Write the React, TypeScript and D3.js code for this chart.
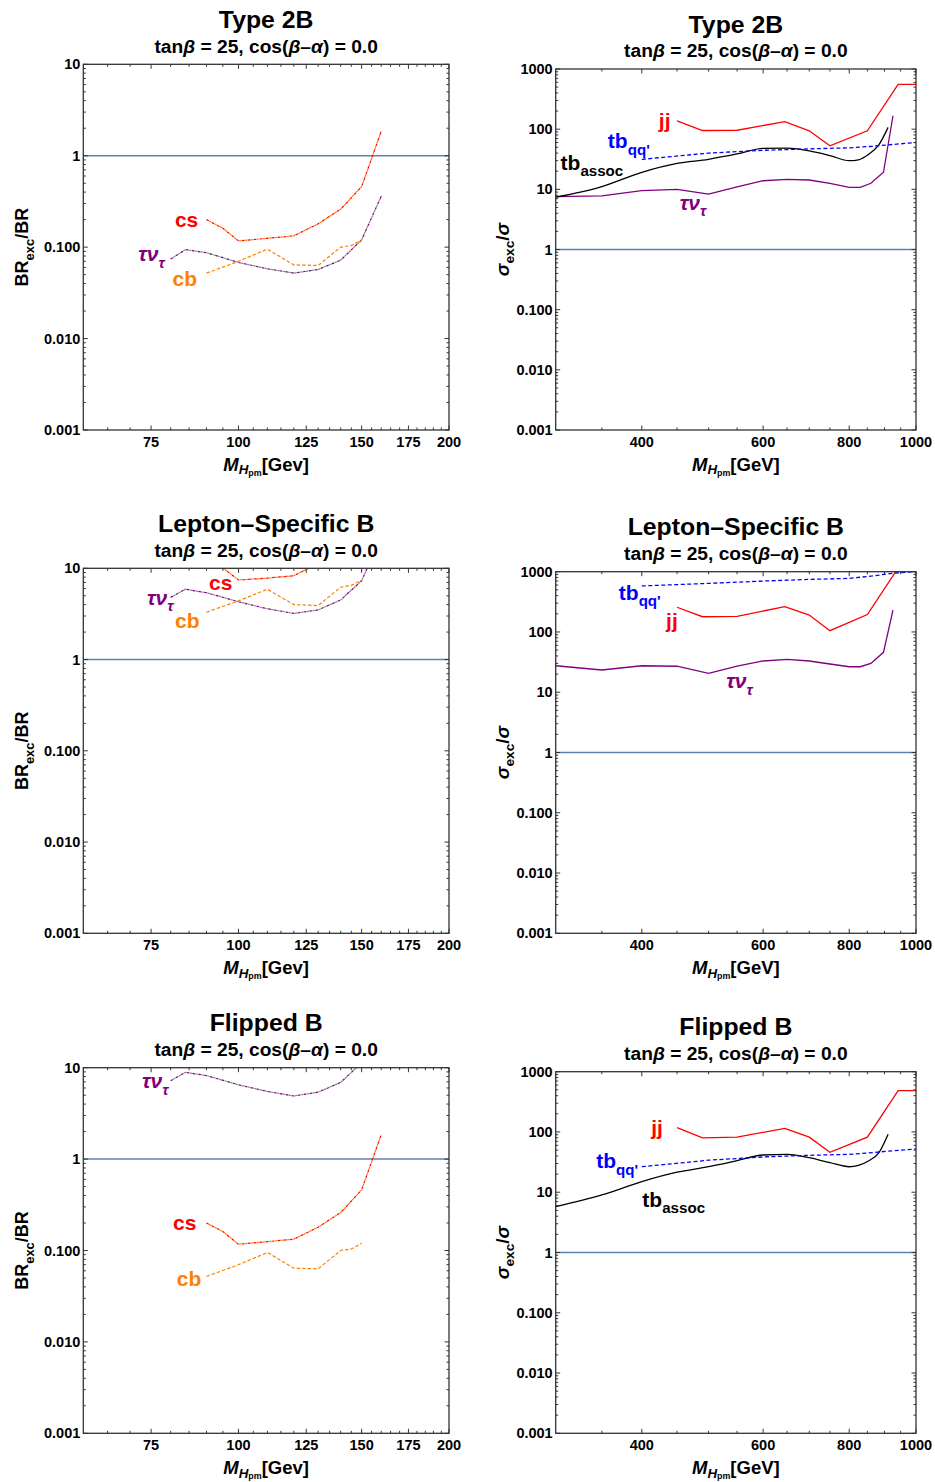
import React from "react";
import * as d3 from "d3";

// ================= DATA =================
// Left column: BR_exc / BR versus M_H± (GeV)
const csMass = [90, 95, 100, 110, 120, 130, 140, 150, 160];
const cs2B = [0.2, 0.161, 0.117, 0.125, 0.133, 0.18, 0.26, 0.46, 1.85];
const csLS = [12.5, 10.1, 7.45, 7.8, 8.3, 11.3, 16, 29, 115];
const csFL = [0.2, 0.161, 0.117, 0.125, 0.133, 0.18, 0.26, 0.46, 1.85];

const cbMass = [90, 100, 110, 120, 130, 140, 145, 150];
const cb2B = [0.052, 0.07, 0.095, 0.064, 0.063, 0.1, 0.104, 0.12];
const cbLS = [3.3, 4.4, 5.9, 4.0, 3.9, 6.2, 6.5, 7.45];
const cbFL = [0.052, 0.07, 0.095, 0.064, 0.063, 0.1, 0.104, 0.12];

const tauMassL = [80, 84, 90, 100, 110, 120, 130, 140, 150, 160];
const tau2BL = [0.074, 0.094, 0.087, 0.068, 0.058, 0.052, 0.057, 0.072, 0.12, 0.36];
const tauLSL = [4.8, 5.9, 5.4, 4.3, 3.6, 3.2, 3.5, 4.5, 7.3, 22];
const tauFLL = [7.2, 8.9, 8.2, 6.5, 5.5, 4.9, 5.4, 6.9, 11.3, 34];

// Right column: sigma_exc / sigma versus M_H± (GeV)
const jjMass = [450, 490, 550, 645, 700, 750, 850, 942, 1000];
const jj2B = [137, 95, 96, 133, 94, 53, 94, 556, 556];
const jjLS = [257, 179, 182, 263, 191, 105, 195, 1150, 1150];
const jjFL = [118, 80, 82, 115, 82, 46, 82, 484, 484];

const tbqqMass = [400, 500, 600, 700, 800, 865, 930, 1000];
const tbqq2B = [31.5, 40, 44.5, 47, 49, 52, 56, 60];
const tbqqLS = [580, 640, 700, 745, 775, 850, 950, 1000];
const tbqqFL = [26.5, 34, 38.5, 41, 42.5, 45.5, 49, 52];

const tbaMass = [300, 350, 400, 450, 500, 550, 600, 650, 700, 750, 800, 825, 853, 883, 911];
const tba2B = [7.4, 11.1, 19.2, 27, 31.6, 38.7, 48, 48.5, 43.4, 36.3, 30, 31, 38, 54.6, 107];
const tbaFL = [5.75, 9, 15, 21.5, 26.5, 33.4, 41.5, 42.5, 37.4, 31, 26.5, 28, 33, 45, 92];

const tauMassR = [300, 350, 400, 450, 500, 550, 600, 650, 700, 750, 800, 830, 860, 897, 926];
const tau2BR = [7.55, 7.8, 9.5, 10, 8.3, 11, 13.9, 14.6, 14.3, 12.6, 10.8, 10.8, 12.6, 19.2, 167];
const tauLSR = [27.5, 23.4, 27.5, 27, 20.6, 27, 33, 35, 33, 29.4, 26.5, 26.5, 30, 46, 231];

// Axis ticks
const leftXTicks = [75, 100, 125, 150, 175, 200];
const leftXMinor = d3.range(65, 200, 5).filter((v) => !leftXTicks.includes(v));
const rightXTicks = [400, 600, 800, 1000];
const rightXMinor = [350, 450, 500, 550, 650, 700, 750, 850, 900, 950];
const leftYTicks = [0.001, 0.01, 0.1, 1, 10];
const leftYTickLabels = ["0.001", "0.010", "0.100", "1", "10"];
const rightYTicks = [0.001, 0.01, 0.1, 1, 10, 100, 1000];
const rightYTickLabels = ["0.001", "0.010", "0.100", "1", "10", "100", "1000"];

const titles = ["Type 2B", "Lepton\u2013Specific B", "Flipped B"];

// ================= STYLE =================
const FONT = "'Liberation Sans', Arial, Helvetica, sans-serif";
const RED = "#FF0000";
const ORANGE = "#FF8000";
const PURPLE = "#800080";
const GRAYD = "#8a8a8a";
const BLUE = "#0000FF";
const REFLINE = "#5E81B5";

type Part = { t: string; it?: boolean; sub?: number };
type Series = {
  xs: number[];
  ys: number[];
  color: string;
  color2?: string;
  dash?: string;
  width?: number;
  smooth?: boolean;
};
type Label = { parts: Part[]; x: number; y: number; color: string };

const tauParts: Part[] = [{ t: "\u03C4\u03BD", it: true }, { t: "\u03C4", it: true, sub: 1 }];
const tbqqParts: Part[] = [{ t: "tb" }, { t: "qq'", sub: 1 }];
const tbaParts: Part[] = [{ t: "tb" }, { t: "assoc", sub: 1 }];

const dashedPair = (xs: number[], ys: number[], c1: string, c2: string): Series => ({
  xs, ys, color: c1, color2: c2, dash: "2.6,3.4", width: 1.2,
});

type PanelCfg = {
  id: string;
  side: "L" | "R";
  frame: { l: number; t: number; r: number; b: number };
  title: string;
  series: Series[];
  labels: Label[];
};

const LF = { l: 83.3, r: 449 };
const RF = { l: 555.7, r: 916 };

const panels: PanelCfg[] = [
  {
    id: "p1", side: "L", frame: { ...LF, t: 64.3, b: 430 }, title: titles[0],
    series: [
      dashedPair(tauMassL, tau2BL, PURPLE, GRAYD),
      { xs: cbMass, ys: cb2B, color: ORANGE, dash: "3.5,2", width: 1.2 },
      dashedPair(csMass, cs2B, RED, ORANGE),
    ],
    labels: [
      { parts: [{ t: "cs" }], x: 84.3, y: 0.168, color: RED },
      { parts: tauParts, x: 75.1, y: 0.0697, color: PURPLE },
      { parts: [{ t: "cb" }], x: 83.8, y: 0.0378, color: ORANGE },
    ],
  },
  {
    id: "p2", side: "R", frame: { ...RF, t: 69, b: 430 }, title: titles[0],
    series: [
      { xs: tauMassR, ys: tau2BR, color: PURPLE, width: 1.3 },
      { xs: tbaMass, ys: tba2B, color: "#000", width: 1.3, smooth: true },
      { xs: tbqqMass, ys: tbqq2B, color: BLUE, dash: "4,2.5", width: 1.3 },
      { xs: jjMass, ys: jj2B, color: RED, width: 1.3 },
    ],
    labels: [
      { parts: [{ t: "jj" }], x: 431.8, y: 103.4, color: RED },
      { parts: tbqqParts, x: 383, y: 48.1, color: BLUE },
      { parts: tbaParts, x: 338.6, y: 20.96, color: "#000" },
      { parts: tauParts, x: 474.5, y: 4.54, color: PURPLE },
    ],
  },
  {
    id: "p3", side: "L", frame: { ...LF, t: 568.3, b: 933.3 }, title: titles[1],
    series: [
      dashedPair(tauMassL, tauLSL, PURPLE, GRAYD),
      { xs: cbMass, ys: cbLS, color: ORANGE, dash: "3.5,2", width: 1.2 },
      dashedPair(csMass, csLS, RED, ORANGE),
    ],
    labels: [
      { parts: [{ t: "cs" }], x: 94.3, y: 5.78, color: RED },
      { parts: tauParts, x: 77.3, y: 3.96, color: PURPLE },
      { parts: [{ t: "cb" }], x: 84.5, y: 2.2, color: ORANGE },
    ],
  },
  {
    id: "p4", side: "R", frame: { ...RF, t: 571.7, b: 933.3 }, title: titles[1],
    series: [
      { xs: tauMassR, ys: tauLSR, color: PURPLE, width: 1.3 },
      { xs: tbqqMass, ys: tbqqLS, color: BLUE, dash: "4,2.5", width: 1.3 },
      { xs: jjMass, ys: jjLS, color: RED, width: 1.3 },
    ],
    labels: [
      { parts: tbqqParts, x: 397.3, y: 339, color: BLUE },
      { parts: [{ t: "jj" }], x: 442.4, y: 115, color: RED },
      { parts: tauParts, x: 554.4, y: 11.6, color: PURPLE },
    ],
  },
  {
    id: "p5", side: "L", frame: { ...LF, t: 1067.7, b: 1433.3 }, title: titles[2],
    series: [
      dashedPair(tauMassL, tauFLL, PURPLE, GRAYD),
      { xs: cbMass, ys: cbFL, color: ORANGE, dash: "3.5,2", width: 1.2 },
      dashedPair(csMass, csFL, RED, ORANGE),
    ],
    labels: [
      { parts: tauParts, x: 76.0, y: 5.95, color: PURPLE },
      { parts: [{ t: "cs" }], x: 83.8, y: 0.1676, color: RED },
      { parts: [{ t: "cb" }], x: 85.0, y: 0.0409, color: ORANGE },
    ],
  },
  {
    id: "p6", side: "R", frame: { ...RF, t: 1071.7, b: 1433.3 }, title: titles[2],
    series: [
      { xs: tbaMass, ys: tbaFL, color: "#000", width: 1.3, smooth: true },
      { xs: tbqqMass, ys: tbqqFL, color: BLUE, dash: "4,2.5", width: 1.3 },
      { xs: jjMass, ys: jjFL, color: RED, width: 1.3 },
    ],
    labels: [
      { parts: [{ t: "jj" }], x: 420.9, y: 89.1, color: RED },
      { parts: tbqqParts, x: 368.4, y: 24.9, color: BLUE },
      { parts: tbaParts, x: 445, y: 5.75, color: "#000" },
    ],
  },
];

// ================= RENDERING =================
function Rich({
  x, y, parts, size, color, anchor = "middle", transform, s1 = 0.3, s2 = 0.5, f2 = 0.52,
}: {
  x: number; y: number; parts: Part[]; size: number; color: string;
  anchor?: string; transform?: string; s1?: number; s2?: number; f2?: number;
}) {
  let level = 0;
  const shift = (lv: number) => (lv === 0 ? 0 : lv === 1 ? size * s1 : size * s2);
  const fsize = (lv: number) => (lv === 0 ? size : lv === 1 ? size * 0.72 : size * f2);
  return (
    <text x={x} y={y} fill={color} fontSize={size} fontWeight="bold" fontFamily={FONT}
      textAnchor={anchor} transform={transform}>
      {parts.map((p, i) => {
        const lv = p.sub || 0;
        const dy = shift(lv) - shift(level);
        level = lv;
        return (
          <tspan key={i} dy={dy} fontSize={fsize(lv)} fontStyle={p.it ? "italic" : "normal"}>
            {p.t}
          </tspan>
        );
      })}
    </text>
  );
}

function Panel({ cfg }: { cfg: PanelCfg }) {
  const { l, t, r, b } = cfg.frame;
  const isL = cfg.side === "L";
  const xDomain = isL ? [60, 200] : [300, 1000];
  const yDomain = isL ? [0.001, 10] : [0.001, 1000];
  const x = d3.scaleLog().domain(xDomain).range([l, r]);
  const y = d3.scaleLog().domain(yDomain).range([b, t]);
  const xMaj = isL ? leftXTicks : rightXTicks;
  const xMin = isL ? leftXMinor : rightXMinor;
  const yMaj = isL ? leftYTicks : rightYTicks;
  const yLab = isL ? leftYTickLabels : rightYTickLabels;
  const yMin: number[] = [];
  for (let i = 0; i < yMaj.length - 1; i++) for (let k = 2; k <= 9; k++) yMin.push(yMaj[i] * k);
  const cx = (l + r) / 2;
  const clip = `clip-${cfg.id}`;
  const MAJ = 4.5, MIN = 2.5;

  const mk = (s: Series) => {
    const pts = s.xs.map((m, i) => [m, s.ys[i]] as [number, number]);
    const gen = d3.line<[number, number]>().x((d) => x(d[0])).y((d) => y(d[1]));
    if (s.smooth) gen.curve(d3.curveMonotoneX);
    return gen(pts) || "";
  };

  return (
    <g>
      <defs>
        <clipPath id={clip}>
          <rect x={l} y={t} width={r - l} height={b - t} />
        </clipPath>
      </defs>
      {/* titles */}
      <text x={cx} y={t - 36.3} textAnchor="middle" fontSize={24.8} fontWeight="bold" fontFamily={FONT} fill="#000">
        {cfg.title}
      </text>
      <Rich x={cx} y={t - 11.8} size={19.2} color="#000"
        parts={[{ t: "tan" }, { t: "\u03B2", it: true }, { t: " = 25, cos(" }, { t: "\u03B2", it: true },
          { t: "\u2013" }, { t: "\u03B1", it: true }, { t: ") = 0.0" }]} />

      {/* reference line at 1 */}
      <line x1={l} x2={r} y1={y(1)} y2={y(1)} stroke={REFLINE} strokeWidth={1.5} />

      {/* data */}
      <g clipPath={`url(#${clip})`}>
        {cfg.series.map((s, i) => {
          const d = mk(s);
          return (
            <g key={i}>
              {s.color2 && (
                <path d={d} fill="none" stroke={s.color2} strokeWidth={s.width || 1.2}
                  strokeDasharray={s.dash} strokeDashoffset={3} />
              )}
              <path d={d} fill="none" stroke={s.color} strokeWidth={s.width || 1.2}
                strokeDasharray={s.dash} />
            </g>
          );
        })}
      </g>

      {/* frame ticks */}
      <g stroke="#333" strokeWidth={1}>
        {xMaj.map((v) => (
          <g key={`xm${v}`}>
            <line x1={x(v)} x2={x(v)} y1={b} y2={b - MAJ} />
            <line x1={x(v)} x2={x(v)} y1={t} y2={t + MAJ} />
          </g>
        ))}
        {xMin.map((v) => (
          <g key={`xn${v}`}>
            <line x1={x(v)} x2={x(v)} y1={b} y2={b - MIN} />
            <line x1={x(v)} x2={x(v)} y1={t} y2={t + MIN} />
          </g>
        ))}
        {yMaj.map((v) => (
          <g key={`ym${v}`}>
            <line x1={l} x2={l + MAJ} y1={y(v)} y2={y(v)} />
            <line x1={r} x2={r - MAJ} y1={y(v)} y2={y(v)} />
          </g>
        ))}
        {yMin.map((v, i) => (
          <g key={`yn${i}`}>
            <line x1={l} x2={l + MIN} y1={y(v)} y2={y(v)} />
            <line x1={r} x2={r - MIN} y1={y(v)} y2={y(v)} />
          </g>
        ))}
      </g>
      <rect x={l} y={t} width={r - l} height={b - t} fill="none" stroke="#333" strokeWidth={1.3} />

      {/* tick labels */}
      {xMaj.map((v) => (
        <text key={`xl${v}`} x={x(v)} y={b + 16.5} textAnchor="middle" fontSize={14.5}
          fontWeight="bold" fontFamily={FONT} fill="#000">
          {v}
        </text>
      ))}
      {yMaj.map((v, i) => (
        <text key={`yl${v}`} x={l - 3} y={y(v) + 5} textAnchor="end" fontSize={14.5}
          fontWeight="bold" fontFamily={FONT} fill="#000">
          {yLab[i]}
        </text>
      ))}

      {/* axis titles */}
      <Rich x={cx} y={b + 40.5} size={18.5} color="#000" s1={0.2} s2={0.28} f2={0.48}
        parts={[{ t: "M", it: true }, { t: "H", it: true, sub: 1 }, { t: "pm", sub: 2 },
          { t: isL ? "[Gev]" : "[GeV]" }]} />
      {isL ? (
        <Rich x={0} y={0} size={18} color="#000" transform={`translate(${l - 55},${(t + b) / 2}) rotate(-90)`}
          parts={[{ t: "BR" }, { t: "exc", sub: 1 }, { t: "/BR" }]} />
      ) : (
        <Rich x={0} y={0} size={19} color="#000" transform={`translate(${l - 47},${(t + b) / 2}) rotate(-90)`}
          parts={[{ t: "\u03C3", it: true }, { t: "exc", sub: 1 }, { t: "/" }, { t: "\u03C3", it: true }]} />
      )}

      {/* curve labels */}
      {cfg.labels.map((lb, i) => (
        <Rich key={i} x={x(lb.x)} y={y(lb.y)} size={21} color={lb.color} parts={lb.parts} />
      ))}
    </g>
  );
}

export default function App() {
  return (
    <svg width={935} height={1482} viewBox="0 0 935 1482"
      style={{ position: "absolute", left: 0, top: 0, background: "#fff", display: "block" }}>
      <rect x={0} y={0} width={935} height={1482} fill="#fff" />
      {panels.map((p) => (
        <Panel key={p.id} cfg={p} />
      ))}
    </svg>
  );
}
